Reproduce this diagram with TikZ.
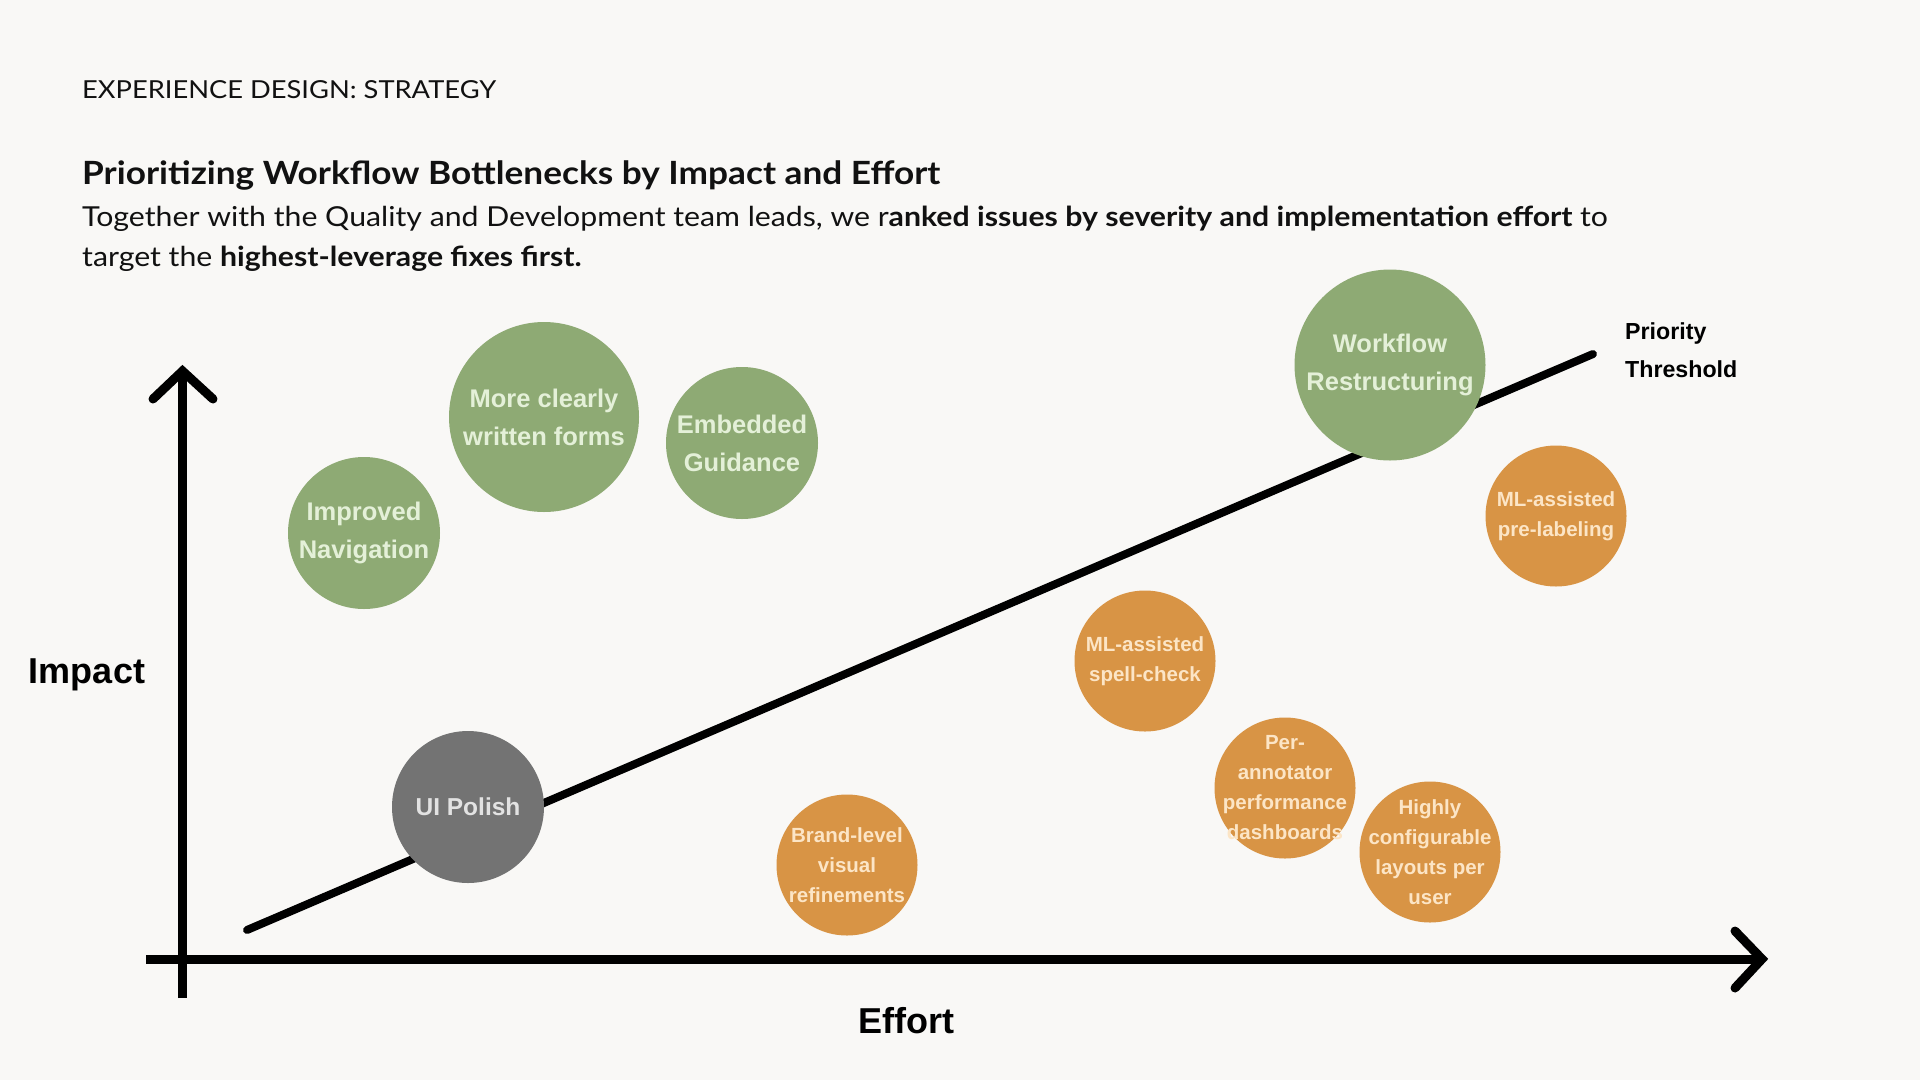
\documentclass[tikz,border=0pt]{standalone}
\usepackage{fontspec}
\setmainfont{Lato}[FakeStretch=1.1]
\newfontfamily\labelfont{Liberation Sans}
\usetikzlibrary{positioning}

\definecolor{paper}{HTML}{F9F8F6}
\definecolor{ink}{HTML}{111111}
\definecolor{sage}{HTML}{8EAA74}
\definecolor{ochre}{HTML}{D89445}
\definecolor{slate}{HTML}{737373}
\definecolor{sagetext}{HTML}{E4F0D8}
\definecolor{ochretext}{HTML}{FCE5C6}
\definecolor{slatetext}{HTML}{E2E2E2}

\tikzset{
  bubble/.style={circle, inner sep=-40pt, align=center},
  quickwin/.style={bubble, fill=sage, text=sagetext, font=\labelfont\bfseries\fontsize{25.5}{38}\selectfont},
  bigbet/.style={bubble, fill=ochre, text=ochretext, font=\labelfont\bfseries\fontsize{20.5}{30}\selectfont},
  skipit/.style={bubble, fill=slate, text=slatetext, font=\labelfont\bfseries\fontsize{24.5}{30}\selectfont},
  heading/.style={anchor=base west, inner sep=0pt, text=ink},
  axis/.style={line width=9pt},
  chevron/.style={line width=9pt, line cap=round, line join=miter},
  threshold/.style={line width=8pt, line cap=round},
  axislabel/.style={inner sep=0pt, anchor=base, font=\labelfont\bfseries\fontsize{36}{40}\selectfont},
}

\begin{document}
\begin{tikzpicture}[x=1pt, y=-1pt]
  % Page
  \fill[paper] (0,0) rectangle (1920,1080);
  \useasboundingbox (0,0) rectangle (1920,1080);

  % Headings
  \node[heading, font=\fontsize{24.8}{30}\selectfont] (kicker) at (82,98) {EXPERIENCE DESIGN: STRATEGY};
  \node[heading, font=\bfseries\fontsize{32}{36}\selectfont] (title) at (82,184) {Prioritizing Workflow Bottlenecks by Impact and Effort};
  \node[heading, font=\fontsize{27.5}{40}\selectfont] (sub1) at (82,226.5) {Together with the Quality and Development team leads, we r\textbf{anked issues by severity and implementation effort} to};
  \node[heading, font=\fontsize{27.5}{40}\selectfont] (sub2) at (82,266.5) {target the \textbf{highest-leverage fixes first.}};

  % Axes
  \coordinate (ybase) at (182.5,998);
  \coordinate (ytip) at (182.5,371);
  \coordinate (xbase) at (146,959);
  \coordinate (xtip) at (1762,959);
  \draw[axis] (ybase) -- (ytip);
  \draw[axis] (xbase) -- (xtip);
  \draw[chevron] ([shift={(-29.5,28)}]ytip) -- (ytip) -- ([shift={(30.5,28)}]ytip);
  \draw[chevron] ([shift={(-27,-28)}]xtip) -- (xtip) -- ([shift={(-27,29)}]xtip);
  \node[axislabel] (impact) at (87,683) {Impact};
  \node[axislabel] (effort) at (906,1033) {Effort};

  % Priority threshold
  \coordinate (tstart) at (247,930);
  \coordinate (tend) at (1593,354);
  \draw[threshold] (tstart) -- (tend);
  \node[anchor=base west, inner sep=0pt, align=left, font=\labelfont\bfseries\fontsize{23.2}{38}\selectfont] (thlabel) at (1625,377) {Priority\\Threshold};

  % Bubbles
  \node[quickwin, minimum size=152pt] (nav) at (364,533) {Improved\\Navigation};
  \node[quickwin, minimum size=190pt] (forms) at (544,417) {More clearly\\written forms};
  \node[quickwin, minimum size=152pt] (guide) at (742,443) {Embedded\\Guidance};
  \node[quickwin, minimum size=191pt] (restruct) at (1390,365) {Workflow\\Restructuring};
  \node[bigbet, minimum size=141pt] (prelabel) at (1556,516) {ML-assisted\\pre-labeling};
  \node[bigbet, minimum size=141pt] (spell) at (1145,661) {ML-assisted\\spell-check};
  \node[bigbet, minimum size=141pt] (dash) at (1285,788) {Per-\\annotator\\performance\\dashboards};
  \node[bigbet, minimum size=141pt] (layout) at (1430,852) {Highly\\configurable\\layouts per\\user};
  \node[bigbet, minimum size=141pt] (brand) at (847,865) {Brand-level\\visual\\refinements};
  \node[skipit, minimum size=152pt] (polish) at (468,807) {UI Polish};
\end{tikzpicture}
\end{document}
